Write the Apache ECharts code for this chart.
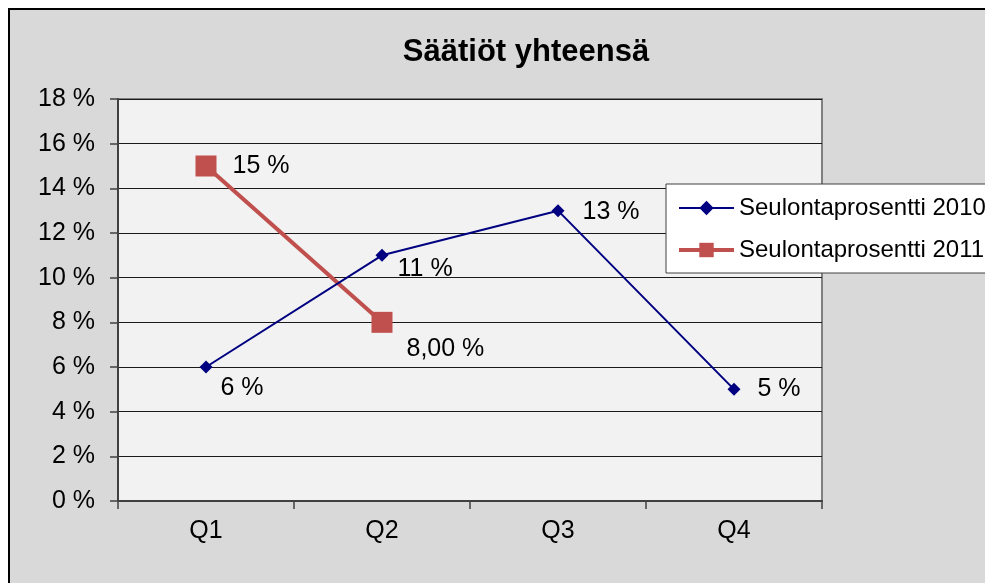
<!DOCTYPE html>
<html>
<head>
<meta charset="utf-8">
<script src="https://cdn.jsdelivr.net/npm/echarts@6/dist/echarts.min.js"></script>
<style>
  html, body { margin: 0; padding: 0; background: #ffffff; }
  .chart-frame {
    position: absolute;
    left: 8px;
    top: 8px;
    width: 1000px;
    height: 600px;
    background: #d9d9d9;
    border-left: 2px solid #000;
    border-top: 2px solid #000;
  }
  #chart { position: absolute; left: 0; top: 0; width: 985px; height: 583px; }
</style>
</head>
<body>
<div class="chart-frame"></div>
<div id="chart"></div>
<script>
  var chartTitle = 'Säätiöt yhteensä';
  var quarters = ['Q1', 'Q2', 'Q3', 'Q4'];
  var name2010 = 'Seulontaprosentti 2010';
  var name2011 = 'Seulontaprosentti 2011';
  var values2010 = [6, 11, 13, 5];
  var values2011 = [15, 8, null, null];
  var labels2010 = ['6 %', '11 %', '13 %', '5 %'];
  var labels2011 = ['15 %', '8,00 %'];
  // label nudges (Excel had them dragged around a bit)
  var offsets2010 = [[8, 21], [9, 14], [18, 1], [17, 0]];
  var offsets2011 = [[16, 0], [14, 27]];

  var font = 'Liberation Sans, Arial, sans-serif';

  function buildPoints(values, labels, offsets) {
    return values.map(function (v, i) {
      if (v == null) return null;
      return {
        value: v,
        label: { formatter: labels[i], offset: offsets[i] }
      };
    });
  }

  var myChart = echarts.init(document.getElementById('chart'));
  var option = {
    animation: false,
    title: {
      text: chartTitle,
      left: 521,
      top: 32,
      textAlign: 'center',
      textStyle: { fontFamily: font, fontSize: 31, fontWeight: 'bold', color: '#000' }
    },
    legend: {
      left: 666,
      top: 184,
      orient: 'vertical',
      backgroundColor: '#ffffff',
      borderColor: '#404040',
      borderWidth: 1,
      borderRadius: 0,
      padding: [10, 10, 9, 11],
      itemWidth: 55,
      itemHeight: 18,
      itemGap: 14,
      textStyle: { fontFamily: font, fontSize: 24, color: '#000', lineHeight: 28 },
      data: [
        { name: name2010, lineStyle: { width: 2 } },
        { name: name2011, lineStyle: { width: 4 } }
      ]
    },
    grid: {
      left: 118,
      right: 163,
      top: 99,
      bottom: 82,
      show: true,
      backgroundColor: '#f2f2f2',
      borderColor: '#808080',
      borderWidth: 2
    },
    xAxis: {
      type: 'category',
      data: quarters,
      boundaryGap: true,
      axisLine: { lineStyle: { color: '#404040', width: 2 } },
      axisTick: { show: true, length: 8, lineStyle: { color: '#404040', width: 1.5 } },
      axisLabel: { margin: 18, fontFamily: font, fontSize: 25, color: '#000' }
    },
    yAxis: {
      type: 'value',
      min: 0,
      max: 18,
      interval: 2,
      axisLine: { show: true, lineStyle: { color: '#404040', width: 2 } },
      axisTick: { show: true, length: 8, lineStyle: { color: '#404040', width: 1.5 } },
      axisLabel: {
        margin: 23,
        fontFamily: font,
        fontSize: 25,
        color: '#000',
        formatter: function (v) { return v + ' %'; }
      },
      splitLine: { lineStyle: { color: '#1a1a1a', width: 1 } }
    },
    series: [
      {
        name: name2010,
        type: 'line',
        data: buildPoints(values2010, labels2010, offsets2010),
        color: '#000080',
        lineStyle: { width: 2, color: '#000080' },
        symbol: 'diamond',
        symbolSize: 13,
        showAllSymbol: true,
        label: {
          show: true,
          position: 'right',
          distance: 0,
          fontFamily: font,
          fontSize: 25,
          color: '#000'
        },
        z: 3
      },
      {
        name: name2011,
        type: 'line',
        data: buildPoints(values2011, labels2011, offsets2011),
        color: '#c0504d',
        lineStyle: { width: 4, color: '#c0504d' },
        symbol: 'rect',
        symbolSize: 21,
        label: {
          show: true,
          position: 'right',
          distance: 0,
          fontFamily: font,
          fontSize: 25,
          color: '#000'
        },
        z: 2
      }
    ]
  };
  option && myChart.setOption(option);
</script>
</body>
</html>
